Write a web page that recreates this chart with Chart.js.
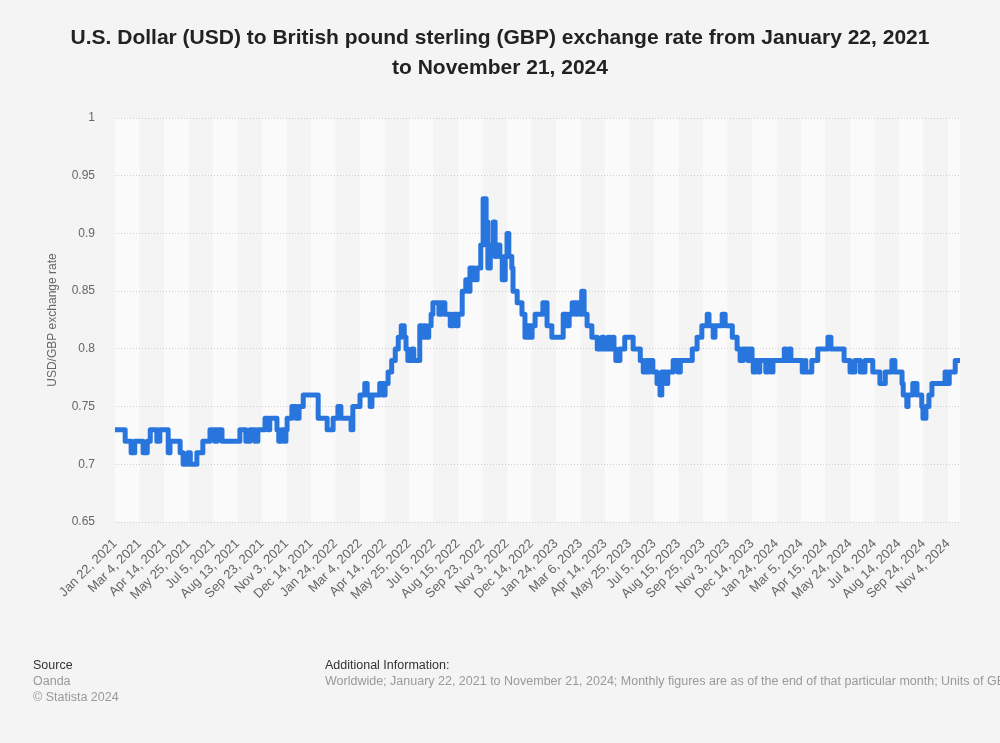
<!DOCTYPE html>
<html>
<head>
<meta charset="utf-8">
<script src="https://cdn.jsdelivr.net/npm/chart.js@4.4.1/dist/chart.umd.min.js"></script>
<style>
  html, body { margin: 0; padding: 0; background: #f4f4f4; }
  body { width: 1000px; height: 743px; position: relative; overflow: hidden; font-family: "Liberation Sans", Arial, sans-serif; }
  #wrap { position: absolute; left: 0; top: 0; width: 1000px; height: 743px; }
  .foot { position: absolute; font-size: 12.5px; white-space: nowrap; line-height: 16px; }
  .head { color: #333; }
  .sub { color: #999; }
</style>
</head>
<body>
<div id="wrap"><canvas id="c" width="1000" height="743"></canvas></div>
<div class="foot" style="left:33px; top:657px;">
  <div class="head">Source</div>
  <div class="sub">Oanda</div>
  <div class="sub">© Statista 2024</div>
</div>
<div class="foot" style="left:325px; top:657px; width:675px; overflow:hidden;">
  <div class="head">Additional Information:</div>
  <div class="sub">Worldwide; January 22, 2021 to November 21, 2024; Monthly figures are as of the end of that particular month; Units of GBP per USD</div>
</div>
<script>
// ---- Data ----
const chartTitle = ["U.S. Dollar (USD) to British pound sterling (GBP) exchange rate from January 22, 2021", "to November 21, 2024"];
const yAxisTitle = "USD/GBP exchange rate";

// observation number (trading-day index from Jan 22, 2021) where the rate changes
const obsIndex = [0,17,27,33,47,54,59,70,75,89,92,109,114,122,126,137,147,159,167,171,179,209,219,226,234,239,251,256,259,271,274,279,283,286,288,296,303,308,315,340,355,365,373,378,395,398,410,418,422,427,430,443,448,452,457,463,469,474,479,484,487,490,497,500,510,514,517,520,525,529,532,542,546,552,561,566,571,574,581,587,591,594,601,606,612,616,621,624,628,633,636,639,644,648,653,656,659,664,666,673,681,686,691,694,698,703,716,723,731,750,756,760,765,771,773,778,780,781,785,790,798,807,815,818,825,828,833,835,838,845,853,867,879,884,889,892,895,900,907,912,915,922,925,934,942,946,966,974,982,991,994,1001,1004,1016,1021,1033,1041,1046,1051,1059,1063,1066,1068,1071,1076,1079,1089,1093,1098,1101,1120,1123,1128,1131,1150,1155,1156,1166,1176,1193,1198,1220,1230,1238,1247,1255,1268,1280,1289,1300,1305,1317,1319,1325,1327,1335,1342,1350,1352,1357,1362,1367,1389,1392,1396,1406,1414];
const usdGbp = [0.73,0.72,0.71,0.72,0.71,0.72,0.73,0.72,0.73,0.71,0.72,0.71,0.70,0.71,0.70,0.71,0.72,0.73,0.72,0.73,0.72,0.73,0.72,0.73,0.72,0.73,0.74,0.73,0.74,0.73,0.72,0.73,0.72,0.73,0.74,0.75,0.74,0.75,0.76,0.74,0.73,0.74,0.75,0.74,0.73,0.75,0.76,0.77,0.76,0.75,0.76,0.77,0.76,0.77,0.78,0.79,0.80,0.81,0.82,0.81,0.80,0.79,0.80,0.79,0.82,0.81,0.82,0.81,0.82,0.83,0.84,0.83,0.84,0.83,0.82,0.83,0.82,0.83,0.85,0.86,0.85,0.87,0.86,0.87,0.89,0.93,0.91,0.87,0.89,0.91,0.88,0.89,0.88,0.86,0.88,0.90,0.88,0.87,0.85,0.84,0.83,0.81,0.82,0.81,0.82,0.83,0.84,0.82,0.81,0.83,0.82,0.83,0.84,0.83,0.84,0.83,0.84,0.85,0.83,0.82,0.81,0.80,0.81,0.80,0.81,0.80,0.81,0.80,0.79,0.80,0.81,0.80,0.79,0.78,0.79,0.78,0.79,0.78,0.77,0.76,0.78,0.77,0.78,0.79,0.78,0.79,0.80,0.81,0.82,0.83,0.82,0.81,0.82,0.83,0.82,0.81,0.80,0.79,0.80,0.79,0.80,0.79,0.78,0.79,0.78,0.79,0.78,0.79,0.78,0.79,0.80,0.79,0.80,0.79,0.78,0.79,0.78,0.79,0.80,0.81,0.80,0.79,0.78,0.79,0.78,0.79,0.78,0.77,0.78,0.79,0.78,0.77,0.76,0.75,0.76,0.77,0.76,0.75,0.74,0.75,0.76,0.77,0.78,0.77,0.78,0.79,0.79];

// x-axis tick labels, one every 41 observations
const tickStep = 41;
const tickLabels = ["Jan 22, 2021","Mar 4, 2021","Apr 14, 2021","May 25, 2021","Jul 5, 2021","Aug 13, 2021","Sep 23, 2021","Nov 3, 2021","Dec 14, 2021","Jan 24, 2022","Mar 4, 2022","Apr 14, 2022","May 25, 2022","Jul 5, 2022","Aug 15, 2022","Sep 23, 2022","Nov 3, 2022","Dec 14, 2022","Jan 24, 2023","Mar 6, 2023","Apr 14, 2023","May 25, 2023","Jul 5, 2023","Aug 15, 2023","Sep 25, 2023","Nov 3, 2023","Dec 14, 2023","Jan 24, 2024","Mar 5, 2024","Apr 15, 2024","May 24, 2024","Jul 4, 2024","Aug 14, 2024","Sep 24, 2024","Nov 4, 2024"];
const tickPositions = tickLabels.map((_, i) => i * tickStep);
const yMin = 0.65, yMax = 1, yStep = 0.05;

// ---- Chart ----
const points = obsIndex.map((x, i) => ({ x: x, y: usdGbp[i] }));
const lastObs = obsIndex[obsIndex.length - 1];

const bandPlugin = {
  id: 'bands',
  beforeDraw(chart) {
    const { ctx, chartArea, scales } = chart;
    const xs = scales.x;
    ctx.save();
    ctx.fillStyle = '#fafafa';
    for (let k = 0; k < tickPositions.length; k += 2) {
      const a = xs.getPixelForValue(tickPositions[k]);
      const bVal = k + 1 < tickPositions.length ? tickPositions[k + 1] : lastObs;
      const b = xs.getPixelForValue(Math.min(bVal, lastObs));
      ctx.fillRect(a, chartArea.top, b - a, chartArea.bottom - chartArea.top);
    }
    ctx.restore();
  }
};

new Chart(document.getElementById('c'), {
  type: 'line',
  data: {
    datasets: [{
      data: points,
      borderColor: '#2876dd',
      borderWidth: 5,
      pointRadius: 0,
      stepped: true,
      borderJoinStyle: 'round',
      borderCapStyle: 'round',
      fill: false
    }]
  },
  options: {
    responsive: false,
    animation: false,
    layout: { padding: { left: 40, right: 40, top: 0, bottom: 101 } },
    plugins: {
      legend: { display: false },
      tooltip: { enabled: false },
      title: {
        display: true,
        text: chartTitle,
        color: '#222',
        font: { family: 'Liberation Sans', size: 21, weight: 'bold', lineHeight: 1.43 },
        padding: { top: 23, bottom: 35 }
      }
    },
    scales: {
      x: {
        type: 'linear',
        min: 0,
        max: lastObs,
        grid: { display: false, drawTicks: false },
        border: { display: false },
        afterBuildTicks(scale) { scale.ticks = tickPositions.map(v => ({ value: v })); },
        afterFit(scale) { scale.height = 120; },
        ticks: {
          autoSkip: false,
          minRotation: 45,
          maxRotation: 45,
          padding: 14,
          color: '#666',
          font: { family: 'Liberation Sans', size: 13 },
          callback(value) { const i = tickPositions.indexOf(value); return i >= 0 ? tickLabels[i] : ''; }
        }
      },
      y: {
        min: yMin,
        max: yMax,
        grid: { color: '#cfcfcf', drawTicks: false, lineWidth: 1 },
        border: { display: false, dash: [1, 2] },
        afterFit(scale) { scale.width = 75; },
        ticks: {
          stepSize: yStep,
          padding: 20,
          color: '#666',
          font: { family: 'Liberation Sans', size: 12 },
          callback(v) { return String(Number(v.toFixed(2))); }
        },
        title: {
          display: true,
          text: yAxisTitle,
          color: '#666',
          font: { family: 'Liberation Sans', size: 12 },
          padding: { top: 5, bottom: 0 }
        }
      }
    }
  },
  plugins: [bandPlugin]
});
</script>
</body>
</html>
